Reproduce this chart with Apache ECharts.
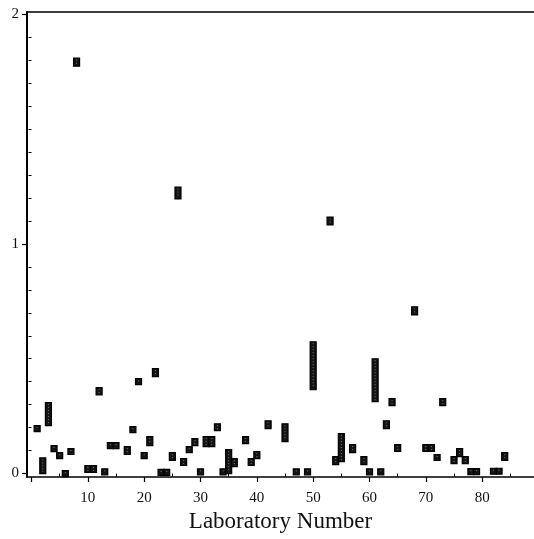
<!DOCTYPE html>
<html>
<head>
<meta charset="utf-8">
<script src="https://cdn.jsdelivr.net/npm/echarts@6/dist/echarts.min.js"></script>
<style>
  html, body { margin: 0; padding: 0; background: #fff; }
  #chart { width: 534px; height: 539px; }
</style>
</head>
<body>
<div id="chart"></div>
<script>
// Laboratory numbers and the low / high ends of each laboratory's range
const labs = [1, 2, 3, 4, 5, 6, 7, 8, 10, 11, 12, 13, 14, 15, 17, 18, 19, 20, 21, 22,
  23, 24, 25, 26, 27, 28, 29, 30, 31, 32, 33, 34, 35, 36, 38, 39, 40, 42, 45, 47,
  49, 50, 53, 54, 55, 57, 59, 60, 61, 62, 63, 64, 65, 68, 70, 71, 72, 73, 75, 76,
  77, 78, 79, 82, 83, 84];
const lowValues = [0.183, 0.0, 0.209, 0.096, 0.065, 0.0, 0.083, 1.774, 0.005, 0.005,
  0.343, 0.0, 0.109, 0.109, 0.083, 0.178, 0.387, 0.065, 0.122, 0.422,
  0.0, 0.0, 0.057, 1.196, 0.035, 0.091, 0.122, 0.0, 0.117, 0.117,
  0.187, 0.0, 0.0, 0.030, 0.130, 0.035, 0.065, 0.196, 0.139, 0.0,
  0.0, 0.365, 1.083, 0.039, 0.052, 0.091, 0.039, 0.0, 0.313, 0.0,
  0.196, 0.296, 0.096, 0.691, 0.096, 0.096, 0.057, 0.296, 0.043, 0.074,
  0.043, 0.0, 0.0, 0.0, 0.0, 0.057];
const highValues = [0.209, 0.068, 0.309, 0.122, 0.091, 0.0, 0.109, 1.809, 0.035, 0.035,
  0.374, 0.015, 0.135, 0.135, 0.117, 0.204, 0.413, 0.091, 0.161, 0.457,
  0.010, 0.010, 0.091, 1.248, 0.065, 0.117, 0.152, 0.015, 0.161, 0.161,
  0.217, 0.015, 0.104, 0.065, 0.161, 0.065, 0.096, 0.230, 0.217, 0.015,
  0.015, 0.574, 1.117, 0.074, 0.174, 0.126, 0.074, 0.015, 0.500, 0.015,
  0.230, 0.326, 0.126, 0.726, 0.126, 0.126, 0.083, 0.326, 0.074, 0.109,
  0.074, 0.017, 0.017, 0.020, 0.020, 0.091];

// Axis ticks and labels
const xMajorTicks = [0, 10, 20, 30, 40, 50, 60, 70, 80];
const xTickLabels = [10, 20, 30, 40, 50, 60, 70, 80];
const xMinorTicks = [5, 15, 25, 35, 45, 55, 65, 75, 85];
const yTickLabels = [0, 1, 2];
const yMinorTicks = [0.1, 0.2, 0.3, 0.4, 0.5, 0.6, 0.7, 0.8, 0.9,
  1.1, 1.2, 1.3, 1.4, 1.5, 1.6, 1.7, 1.8, 1.9];

const rows = labs.map((lab, i) => [lab, lowValues[i], highValues[i]]);

const SERIF = '"Liberation Serif", "DejaVu Serif", serif';
const INK = '#111';
const X_MIN = -0.8, X_MAX = 89.2;
const Y_MIN = -0.015, Y_MAX = 2.01;

const chart = echarts.init(document.getElementById('chart'), null, { renderer: 'canvas' });

// Each laboratory's range is a narrow filled box from low to high,
// never shorter than a few pixels so single values stay visible.
function renderRange(params, api) {
  const lab = api.value(0);
  const pLo = api.coord([lab, api.value(1)]);
  const pHi = api.coord([lab, api.value(2)]);
  const w = 6, minH = 6;
  let top = pHi[1], bottom = pLo[1];
  if (bottom - top < minH) {
    const c = (top + bottom) / 2;
    top = c - minH / 2;
    bottom = c + minH / 2;
  }
  const x0 = pLo[0] - w / 2;
  return {
    type: 'group',
    children: [
      {
        type: 'rect',
        shape: { x: x0, y: top, width: w, height: bottom - top },
        style: { fill: '#141414', stroke: '#000', lineWidth: 1.2 }
      },
      {
        type: 'line',
        shape: { x1: pLo[0], y1: top + 1.5, x2: pLo[0], y2: bottom - 1.5 },
        style: { stroke: '#fff', lineWidth: 1, lineDash: [1, 2], opacity: 0.45 }
      }
    ]
  };
}

const axisLineStyle = { color: '#000', width: 1.6 };

chart.setOption({
  animation: false,
  backgroundColor: '#fff',
  grid: { left: 27, right: 0, top: 12, bottom: 62, containLabel: false },
  xAxis: [
    {
      type: 'value', min: X_MIN, max: X_MAX, position: 'bottom',
      axisLine: { show: true, onZero: false, lineStyle: axisLineStyle },
      axisTick: { show: true, inside: false, length: 5, customValues: xMajorTicks,
        lineStyle: { color: '#000', width: 1.2 } },
      axisLabel: { show: true, customValues: xTickLabels, margin: 14,
        fontFamily: SERIF, fontSize: 15, color: INK },
      splitLine: { show: false },
      name: 'Laboratory Number', nameLocation: 'middle', nameGap: 33,
      nameTextStyle: { fontFamily: SERIF, fontSize: 23, color: INK }
    },
    {
      type: 'value', min: X_MIN, max: X_MAX, position: 'bottom',
      axisLine: { show: false },
      axisTick: { show: true, inside: false, length: 3, customValues: xMinorTicks,
        lineStyle: { color: '#000', width: 1 } },
      axisLabel: { show: false },
      splitLine: { show: false }
    },
    {
      type: 'value', min: X_MIN, max: X_MAX, position: 'top',
      axisLine: { show: true, onZero: false, lineStyle: axisLineStyle },
      axisTick: { show: false }, axisLabel: { show: false },
      splitLine: { show: false }
    }
  ],
  yAxis: [
    {
      type: 'value', min: Y_MIN, max: Y_MAX, position: 'left',
      axisLine: { show: true, onZero: false, lineStyle: { color: '#000', width: 2 } },
      axisTick: { show: true, inside: false, length: 5, customValues: yTickLabels,
        lineStyle: { color: '#000', width: 1.2 } },
      axisLabel: { show: true, customValues: yTickLabels, margin: 8,
        fontFamily: SERIF, fontSize: 15, color: INK },
      splitLine: { show: false }
    },
    {
      type: 'value', min: Y_MIN, max: Y_MAX, position: 'left',
      axisLine: { show: false },
      axisTick: { show: true, inside: false, length: 3, customValues: yMinorTicks,
        lineStyle: { color: '#000', width: 1 } },
      axisLabel: { show: false },
      splitLine: { show: false }
    }
  ],
  series: [
    {
      type: 'custom',
      xAxisIndex: 0, yAxisIndex: 0,
      clip: false,
      renderItem: renderRange,
      encode: { x: 0, y: [1, 2] },
      data: rows
    }
  ]
});
</script>
</body>
</html>
